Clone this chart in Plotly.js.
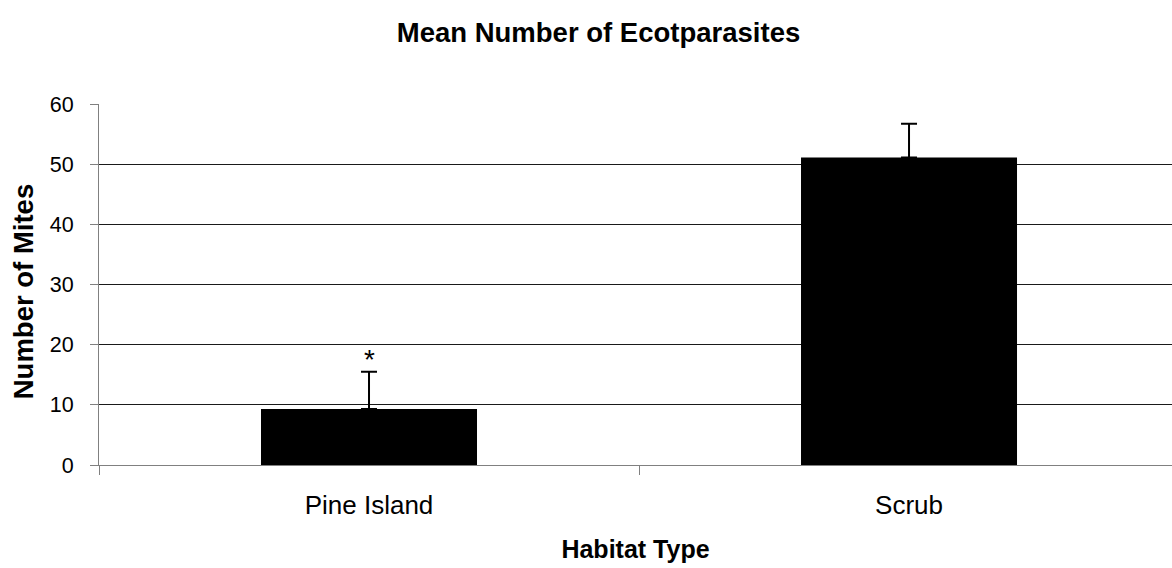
<!DOCTYPE html>
<html>
<head>
<meta charset="utf-8">
<script src="https://cdn.plot.ly/plotly-3.0.1.min.js"></script>
<style>html,body{margin:0;padding:0;overflow:hidden;background:#fff}#chart{width:1172px;height:568px}</style>
</head>
<body>
<div id="chart"></div>
<script>
const categories = ["Pine Island", "Scrub"];
const meanMites = [9.3, 51.1];
const errorUp = [6.2, 5.6];
const yTicks = [0, 10, 20, 30, 40, 50, 60];
const markers = ["*", ""];
const FONT = "Liberation Sans, Arial, sans-serif";

const trace = {
  type: "bar",
  x: categories,
  y: meanMites,
  width: 0.4,
  marker: {color: "#000000", line: {width: 0}},
  error_y: {type: "data", symmetric: false, array: errorUp, arrayminus: [0, 0],
            color: "#000000", thickness: 2, width: 8},
  hoverinfo: "x+y"
};

const annotations = [];
categories.forEach((c, i) => {
  if (markers[i]) {
    annotations.push({x: c, y: meanMites[i] + errorUp[i], xref: "x", yref: "y",
      text: markers[i], showarrow: false, yanchor: "bottom", yshift: -5,
      font: {family: FONT, size: 28, color: "#000"}});
  }
});
annotations.push({text: "<b>Number of Mites</b>", xref: "paper", yref: "paper",
  x: (23 - 99) / 1073, y: (465.5 - 292.5) / 361.5, xanchor: "center", yanchor: "middle",
  textangle: -90, showarrow: false, font: {family: FONT, size: 27.5, color: "#000"}});

const layout = {
  width: 1172, height: 568,
  margin: {l: 99, r: 0, t: 104, b: 102.5, pad: 0},
  paper_bgcolor: "#fff", plot_bgcolor: "#fff",
  font: {family: FONT, color: "#000"},
  showlegend: false,
  title: {text: "<b>Mean Number of Ecotparasites</b>", xref: "container", yref: "container",
          x: 598.5/1172, y: 1 - 32/568, xanchor: "center", yanchor: "middle",
          font: {family: FONT, size: 27.5, color: "#000"}},
  xaxis: {type: "category", range: [-0.5, 1.487], showgrid: false, zeroline: false,
          showline: true, linecolor: "#808080", linewidth: 1,
          ticks: "outside", tickson: "boundaries", ticklen: 9, tickcolor: "#808080", tickwidth: 1,
          tickfont: {family: FONT, size: 26, color: "#000"}, ticklabelstandoff: 17,
          title: {text: "<b>Habitat Type</b>", font: {family: FONT, size: 25, color: "#000"}, standoff: 21}},
  yaxis: {range: [0, 60], tickvals: yTicks, ticktext: yTicks.map(String),
          showgrid: true, gridcolor: "#1a1a1a", gridwidth: 1, zeroline: false,
          showline: true, linecolor: "#808080", linewidth: 1,
          ticks: "outside", ticklen: 8, tickcolor: "#808080", tickwidth: 1,
          tickfont: {family: FONT, size: 21.5, color: "#000"}, ticklabelstandoff: 12},
  annotations: annotations,
  bargap: 0.6
};

Plotly.newPlot("chart", [trace], layout, {displayModeBar: false, staticPlot: true});
</script>
</body>
</html>
